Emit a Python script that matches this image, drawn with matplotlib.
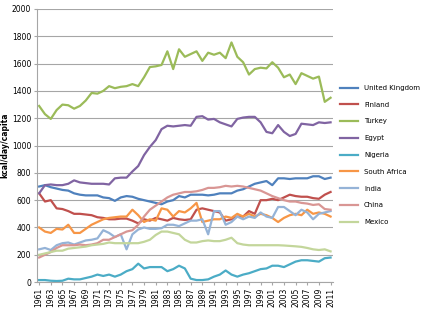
import matplotlib.pyplot as plt
import numpy as np

# years on the category axis
years = list(range(1961, 2012))

# kcal/day/capita per country
united_kingdom = [700, 710, 695, 685, 675, 670, 650, 640, 635, 635, 635, 620, 615, 595, 620, 630, 625, 610, 600, 590,
                  580, 570, 590, 600, 630, 620, 640, 640, 640, 635, 640, 650, 650, 650, 670, 680, 700, 720, 730, 740,
                  710, 760, 760, 755, 760, 760, 760, 775, 775, 755, 765]
finland = [650, 590, 600, 540, 535, 520, 500, 500, 495, 490, 475, 470, 460, 460, 465, 465, 450, 430, 460, 450,
           470, 460, 450, 470, 460, 455, 460, 530, 540, 530, 520, 510, 450, 460, 480, 480, 520, 500, 600, 600,
           610, 600, 620, 640, 630, 625, 625, 615, 610, 640, 660]
turkey = [1290, 1230, 1195, 1260, 1300, 1295, 1270, 1290, 1330, 1385, 1380, 1400, 1435, 1420, 1430, 1435, 1450,
          1435, 1500, 1575, 1580, 1590, 1690, 1560, 1705, 1650, 1670, 1690, 1620, 1680, 1665, 1680, 1640, 1755,
          1650, 1610, 1520, 1560, 1570, 1565, 1610, 1570, 1500, 1520, 1450, 1530, 1510, 1490, 1505, 1320, 1350]
egypt = [650, 710, 715, 710, 710, 720, 745, 730, 725, 720, 720, 720, 715, 760, 765, 765, 810, 850, 930, 990,
         1040, 1120, 1145, 1140, 1145, 1150, 1145, 1210, 1215, 1190, 1195, 1170, 1155, 1140, 1195, 1205, 1210,
         1210, 1170, 1100, 1090, 1150, 1100, 1070, 1085, 1160, 1155, 1150, 1170, 1165, 1170]
nigeria = [15, 15, 10, 8, 10, 25, 20, 20, 30, 40, 55, 45, 55, 40, 55, 80, 95, 135, 100, 110,
           110, 110, 80, 95, 120, 100, 25, 15, 15, 20, 40, 55, 85, 55, 40, 55, 65, 80, 95, 100,
           120, 120, 110, 130, 150, 160, 160, 155, 150, 175, 180]
south_africa = [400, 370, 360, 390, 385, 420, 360, 360, 390, 420, 440, 460, 470, 475, 480, 480, 530, 490, 440, 460,
                450, 540, 530, 480, 520, 510, 540, 580, 440, 450, 460, 460, 480, 470, 500, 480, 500, 480, 500, 490,
                470, 440, 470, 490, 500, 490, 530, 500, 510, 500, 480]
india = [240, 250, 235, 270, 285, 290, 275, 290, 305, 310, 320, 380, 360, 330, 350, 240, 350, 385, 400, 390,
         390, 395, 420, 420, 410, 430, 450, 450, 460, 350, 520, 520, 420, 440, 480, 460, 480, 470, 510, 480,
         470, 550, 550, 520, 490, 530, 510, 460, 500, 510, 520]
china = [180, 200, 220, 250, 270, 270, 270, 275, 270, 275, 285, 310, 310, 330, 350, 370, 380, 420, 480, 530,
         560, 590, 620, 640, 650, 660, 660, 665, 675, 690, 690, 695, 705, 700, 705, 700, 690, 680, 670, 650,
         630, 615, 600, 590, 590, 580, 575, 565, 570, 535, 530]
mexico = [200, 210, 220, 230, 230, 245, 250, 255, 260, 270, 275, 280, 290, 285, 285, 285, 285, 285, 295, 310,
          345, 370, 370, 360, 350, 310, 290, 290, 300, 305, 300, 300, 310, 325, 285, 275, 270, 270, 270, 270,
          270, 270, 268, 265, 262, 258, 250, 240, 235, 240, 225]

series = [
    ("United Kingdom", united_kingdom, "#4F81BD"),
    ("Finland", finland, "#C0504D"),
    ("Turkey", turkey, "#9BBB59"),
    ("Egypt", egypt, "#8064A2"),
    ("Nigeria", nigeria, "#4BACC6"),
    ("South Africa", south_africa, "#F79646"),
    ("India", india, "#95B3D7"),
    ("China", china, "#D99694"),
    ("Mexico", mexico, "#C3D69B"),
]

fig = plt.figure(figsize=(4.23, 3.10), dpi=100)
ax = fig.add_axes([0.087, 0.090, 0.700, 0.881])

x = np.arange(len(years))
for name, vals, col in series:
    ax.plot(x, vals, color=col, lw=1.6, label=name)

ax.set_xlim(-0.4, len(years) - 0.6)
ax.set_ylim(0, 2000)
ax.set_yticks(range(0, 2001, 200))
ax.yaxis.grid(True, color="#A6A6A6", lw=0.8)
ax.set_axisbelow(True)
ax.set_xticks(x[::2])
ax.set_xticklabels([str(y) for y in years[::2]], rotation=90)
ax.tick_params(axis="both", labelsize=5.5, length=2, color="#A6A6A6", pad=2)
for side in ["top", "right"]:
    ax.spines[side].set_visible(False)
for side in ["left", "bottom"]:
    ax.spines[side].set_color("#A6A6A6")
ax.set_ylabel("kcal/day/capita", fontsize=5.5, fontweight="bold", labelpad=2)

fig.legend(loc="center left", bbox_to_anchor=(0.79, 0.5), frameon=False, fontsize=5,
           handlelength=2.6, labelspacing=1.55, handletextpad=0.8)

fig.savefig("out.png", dpi=100)
